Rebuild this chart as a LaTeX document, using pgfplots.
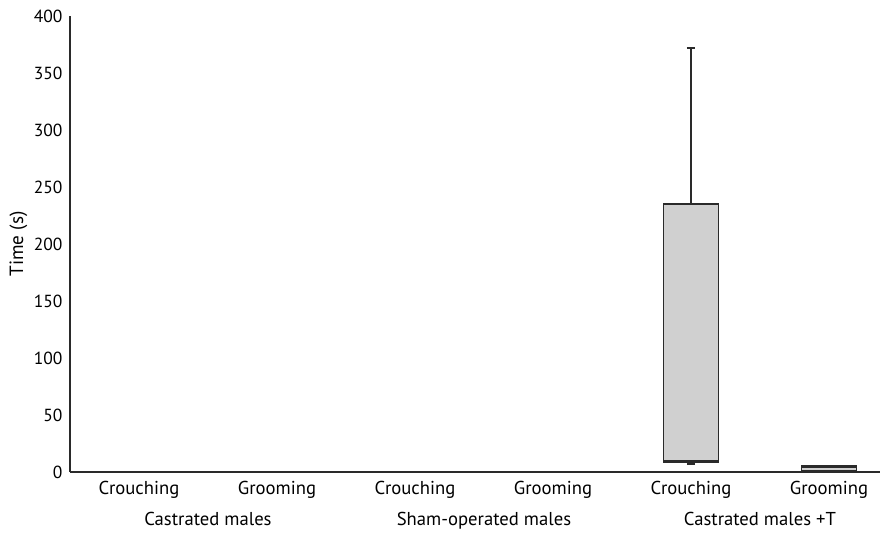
\documentclass[border=0pt]{standalone}
\usepackage{pgfplots}
\pgfplotsset{compat=1.18}
\usepgfplotslibrary{statistics}
\usepackage{fontspec}
\setmainfont{PT Sans}
\definecolor{boxfill}{HTML}{D0D0D0}
\definecolor{edge}{HTML}{2A2A2A}
\begin{document}
\begin{tikzpicture}
\useasboundingbox (-42pt,-37.2pt) rectangle (492.6pt,283.2pt);
\begin{axis}[
  at={(0,0)}, anchor=south west,
  scale only axis, width=486pt, height=273.6pt,
  xmin=-0.5, xmax=5.37, ymin=0, ymax=400,
  axis x line=bottom, axis y line=left,
  axis line style={edge, line width=0.7pt, -},
  xtick={0,1,2,3,4,5},
  xticklabels={Crouching,Grooming,Crouching,Grooming,Crouching,Grooming},
  ytick={0,50,...,400},
  major tick length=0pt,
  yticklabel style={font=\fontsize{10.5pt}{12pt}\selectfont, text=black, xshift=-1pt},
  xticklabel style={font=\fontsize{11.2pt}{13pt}\selectfont, text=black, yshift=-2pt},
  /pgf/number format/assume math mode=true,
  ylabel={Time (s)},
  ylabel style={font=\fontsize{11.5pt}{13pt}\selectfont, yshift=-3pt},
  clip=false,
  boxplot/draw direction=y,
  boxplot/box extend=0.4,
  boxplot/whisker extend=0.06,
]
\addplot+[draw=edge, fill=boxfill, line width=0.8pt, solid, mark=none,
  boxplot prepared={draw position=4, lower whisker=7, lower quartile=8.5,
    median=9, upper quartile=235, upper whisker=372},
  boxplot/every median/.style={line width=1.6pt}]
  coordinates {};
\addplot+[draw=edge, fill=boxfill, line width=0.8pt, solid, mark=none,
  boxplot prepared={draw position=5, lower whisker=0.5, lower quartile=0.8,
    median=4.6, upper quartile=5, upper whisker=5},
  boxplot/every median/.style={line width=1.6pt}]
  coordinates {};
\node[font=\fontsize{11.2pt}{13pt}\selectfont, anchor=base] at (axis cs:0.5,0) [yshift=-32pt] {Castrated males};
\node[font=\fontsize{11.2pt}{13pt}\selectfont, anchor=base] at (axis cs:2.5,0) [yshift=-32pt] {Sham-operated males};
\node[font=\fontsize{11.2pt}{13pt}\selectfont, anchor=base] at (axis cs:4.5,0) [yshift=-32pt] {Castrated males +T};
\end{axis}
\end{tikzpicture}
\end{document}
